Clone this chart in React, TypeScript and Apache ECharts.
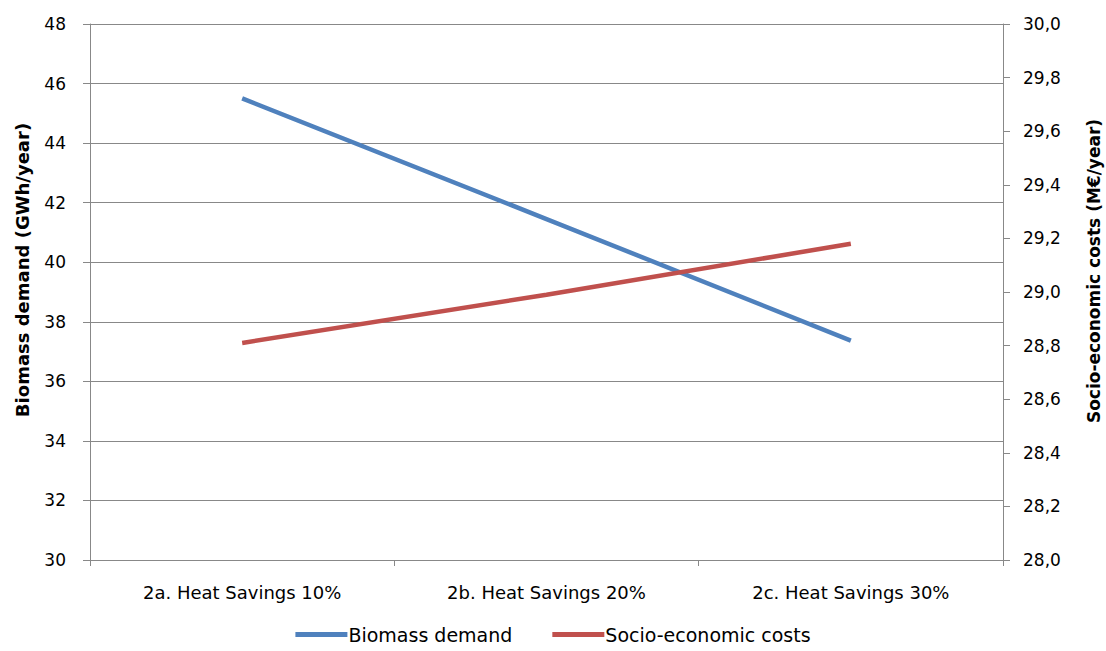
import React, { useEffect, useRef } from "react";
import * as echarts from "echarts";

const categories = ["2a. Heat Savings 10%", "2b. Heat Savings 20%", "2c. Heat Savings 30%"];
const biomassDemand = [45.5, 41.45, 37.37];
const socioEconomicCosts = [28.81, 28.99, 29.18];
const leftTitle = "Biomass demand (GWh/year)";
const rightTitle = "Socio-economic costs (M€/year)";

const FONT = "'DejaVu Sans', sans-serif";
const GRAY = "#888888";

export default function App() {
  const ref = useRef<HTMLDivElement>(null);
  useEffect(() => {
    if (!ref.current) return;
    const chart = echarts.init(ref.current, undefined, { renderer: "svg" });
    chart.setOption({
      animation: false,
      backgroundColor: "#ffffff",
      textStyle: { fontFamily: FONT },
      grid: { left: 90, right: 103, top: 24, bottom: 91, containLabel: false, outerBoundsMode: "none" },
      graphic: [
        {
          type: "text",
          x: 22,
          y: 270,
          rotation: Math.PI / 2,
          style: {
            text: leftTitle,
            fontSize: 18,
            fontWeight: "bold",
            fontFamily: FONT,
            fill: "#000",
            textAlign: "center",
            textVerticalAlign: "middle",
          },
        },
        {
          type: "text",
          x: 1094,
          y: 271,
          rotation: Math.PI / 2,
          style: {
            text: rightTitle,
            fontSize: 17,
            fontWeight: "bold",
            fontFamily: FONT,
            fill: "#000",
            textAlign: "center",
            textVerticalAlign: "middle",
          },
        },
      ],
      legend: {
        bottom: 2,
        left: "center",
        icon: "rect",
        itemWidth: 52,
        itemHeight: 5,
        itemGap: 40,
        textStyle: { fontSize: 19, color: "#000", fontFamily: FONT, padding: [0, 0, 0, -4] },
        data: ["Biomass demand", "Socio-economic costs"],
      },
      xAxis: {
        type: "category",
        data: categories,
        boundaryGap: true,
        axisLine: { lineStyle: { color: GRAY, width: 1 } },
        axisTick: { show: true, length: 6, lineStyle: { color: GRAY } },
        axisLabel: { color: "#000", fontSize: 18, margin: 23, fontFamily: FONT },
        splitLine: { show: false },
      },
      yAxis: [
        {
          type: "value",
          min: 30,
          max: 48,
          interval: 2,
          position: "left",
          axisLine: { show: true, lineStyle: { color: GRAY } },
          axisTick: { show: true, length: 7, lineStyle: { color: GRAY } },
          axisLabel: { color: "#000", fontSize: 17, margin: 24, fontFamily: FONT },
          splitLine: { show: true, lineStyle: { color: GRAY, width: 1 } },
        },
        {
          type: "value",
          min: 28,
          max: 30,
          interval: 0.2,
          position: "right",
          axisLine: { show: true, lineStyle: { color: GRAY } },
          axisTick: { show: true, length: 7, lineStyle: { color: GRAY } },
          axisLabel: {
            color: "#000",
            fontSize: 17,
            margin: 20,
            fontFamily: FONT,
            formatter: (v: number) => v.toFixed(1).replace(".", ","),
          },
          splitLine: { show: false },
        },
      ],
      series: [
        {
          name: "Biomass demand",
          type: "line",
          yAxisIndex: 0,
          data: biomassDemand,
          showSymbol: false,
          symbol: "none",
          lineStyle: { color: "#4F81BD", width: 4.5 },
          itemStyle: { color: "#4F81BD" },
        },
        {
          name: "Socio-economic costs",
          type: "line",
          yAxisIndex: 1,
          data: socioEconomicCosts,
          showSymbol: false,
          symbol: "none",
          lineStyle: { color: "#C0504D", width: 4.5 },
          itemStyle: { color: "#C0504D" },
        },
      ],
    });
    return () => chart.dispose();
  }, []);
  return (
    <div
      ref={ref}
      style={{ position: "absolute", left: 0, top: 0, width: 1106, height: 651 }}
    />
  );
}
